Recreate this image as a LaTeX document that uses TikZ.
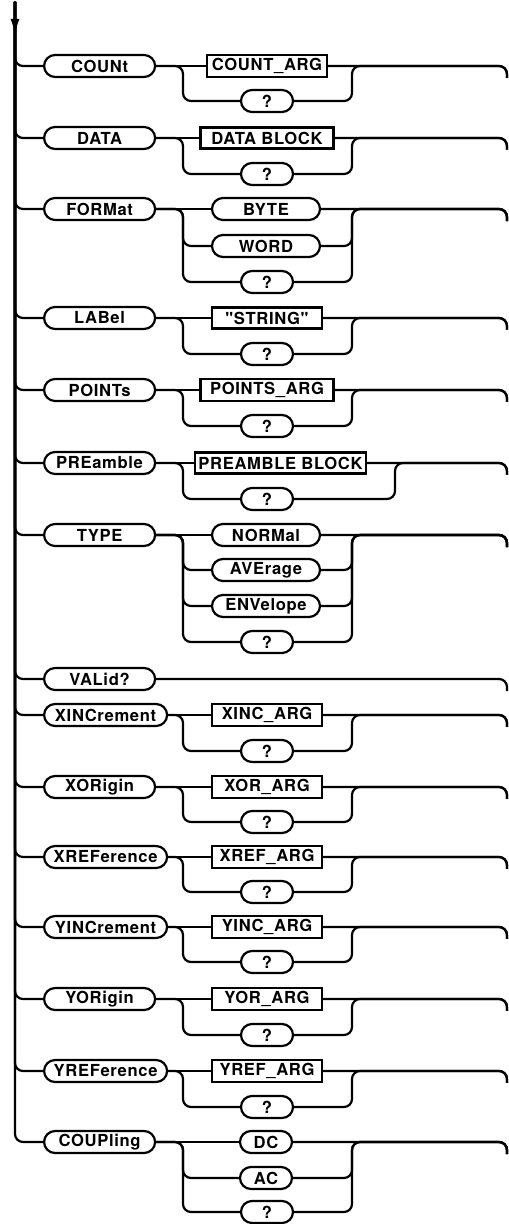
\documentclass[tikz,border=0pt]{standalone}
\usepackage{fontspec}
\newfontfamily\plotfont[LetterSpace=4]{TeX Gyre Heros}
\usetikzlibrary{arrows.meta}

\tikzset{
  box/.style={draw, minimum height=11pt, inner sep=1.5pt,
    font=\plotfont\bfseries\fontsize{8.3}{9}\selectfont},
  kw/.style={box, rounded corners=5.5pt, minimum width=55.5pt, anchor=west},
  opt/.style={box, rounded corners=5.5pt, minimum width=54pt},
  qm/.style={opt, minimum width=26pt},
  arg/.style={box, minimum height=10.5pt},
  rc/.style={rounded corners=4pt}
}

\begin{document}
\begin{tikzpicture}[x=0.5pt, y=-0.5pt, line width=1.1pt]
  \useasboundingbox (0,0) rectangle (508,1224);
  \coordinate (top) at (15,2);
  \coordinate (arrow) at (15,35);
  \coordinate (sp) at (183,0);
  \coordinate (jn) at (352,0);
  \coordinate (jp) at (395,0);
  \coordinate (rt) at (507,0);

  % keywords
  \foreach \n/\y/\t in {count/66/COUNt, data/138/DATA, format/209/FORMat,
      label/318/LABel, points/390/POINTs, preamble/463/PREamble, type/535/TYPE,
      valid/679/VALid?, xorigin/787/XORigin, yorigin/999/YORigin,
      coupling/1142/COUPling}
    \node[kw] (\n) at (43,\y) {\t};
  \foreach \n/\y/\t in {xincrement/715/XINCrement, xreference/857/XREFerence,
      yincrement/927/YINCrement, yreference/1071/YREFerence}
    \node[kw, minimum width=61.5pt] (\n) at (43,\y) {\t};

  % arguments
  \foreach \n/\x/\y/\w/\t in {countarg/267/66/60/COUNT\_ARG,
      dataarg/267/138/66.5/DATA BLOCK, stringarg/267/318/55/"STRING",
      pointsarg/267/390/66.5/POINTS\_ARG, preamblearg/280.5/463/81.5/PREAMBLE BLOCK,
      xincarg/267/715/55/XINC\_ARG, xorarg/267/787/55/XOR\_ARG,
      xrefarg/267/857/55/XREF\_ARG, yincarg/267/927/55/YINC\_ARG,
      yorarg/267/999/55/YOR\_ARG, yrefarg/267/1071/55/YREF\_ARG}
    \node[arg, minimum width=\w pt] (\n) at (\x,\y) {\t};
  \foreach \n/\y/\t in {byte/209/BYTE, word/246/WORD, normal/535/NORMal,
      average/570/AVErage, envelope/606/ENVelope}
    \node[opt] (\n) at (266,\y) {\t};
  \foreach \n/\y/\t in {dc/1142/DC, ac/1178/AC}
    \node[qm] (\n) at (266,\y) {\t};
  \foreach \n/\y in {q1/101, q2/174, q3/282, q4/354, q5/426, q6/499, q7/642,
      q8/751, q9/822, q10/892, q11/962, q12/1035, q13/1107, q14/1212}
    \node[qm] (\n) at (267,\y) {?};

  % main line
  \draw[-{Latex[length=8pt,width=4.5pt]}] (top) -- (arrow);
  \foreach \k in {count, data, format, label, points, preamble, type, valid,
      xincrement, xorigin, xreference, yincrement, yorigin, yreference, coupling}
    \draw[rc] (top) |- (\k.west);
  \draw[rc] (valid.east) -| (rt |- valid.south);

  % branches
  \foreach \k/\a/\j/\alts in {count/countarg/jn/{q1}, data/dataarg/jn/{q2},
      format/byte/jn/{word,q3}, label/stringarg/jn/{q4}, points/pointsarg/jn/{q5},
      preamble/preamblearg/jp/{q6}, type/normal/jn/{average,envelope,q7},
      xincrement/xincarg/jn/{q8}, xorigin/xorarg/jn/{q9},
      xreference/xrefarg/jn/{q10}, yincrement/yincarg/jn/{q11},
      yorigin/yorarg/jn/{q12}, yreference/yrefarg/jn/{q13},
      coupling/dc/jn/{ac,q14}}
  {
    \draw (\k.east) -- (\a.west);
    \draw[rc] (\a.east) -| (rt |- \a.south);
    \foreach \o in \alts {
      \draw[rc] (\k.east) -| (sp |- \o.west) -- (\o.west);
      \draw[rc] (\o.east) -| (\j |- \a.east) -| (rt |- \a.south);
    }
  }
\end{tikzpicture}
\end{document}
